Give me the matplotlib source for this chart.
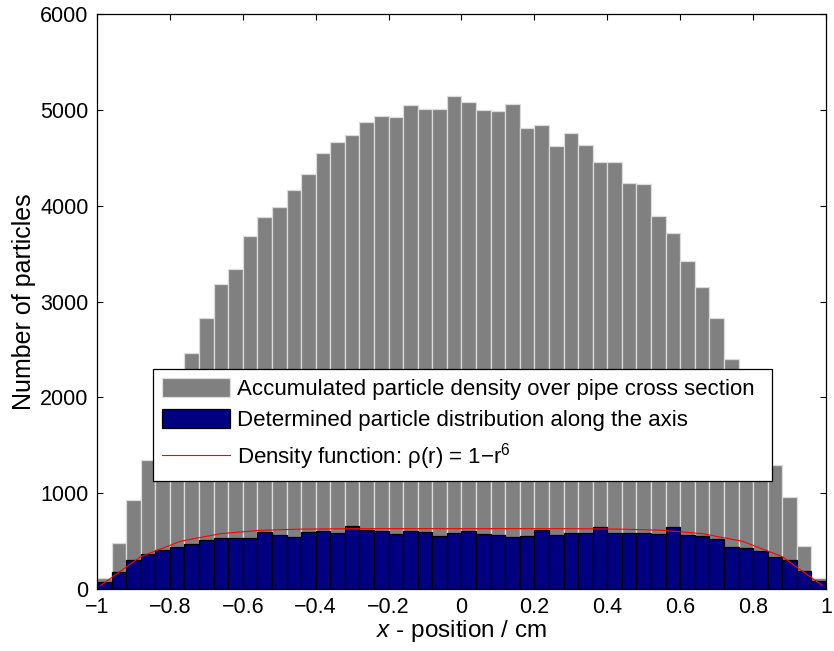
import numpy as np
import matplotlib
matplotlib.use('Agg')
import matplotlib.pyplot as plt

# histogram bins along the pipe axis (cm)
bin_edges = np.round(np.arange(-1.0, 1.0, 0.04), 2)
bin_width = 0.04

# accumulated particle density over the cross section (gray bars)
gray_counts = [114, 480, 928, 1344, 1780, 2150, 2467, 2823, 3184, 3340,
               3680, 3880, 3981, 4161, 4327, 4546, 4667, 4736, 4878, 4937,
               4927, 5048, 5013, 5013, 5148, 5083, 5003, 4993, 5058, 4813,
               4837, 4622, 4757, 4636, 4452, 4452, 4241, 4227, 3891, 3711,
               3420, 3150, 2823, 2401, 2050, 1700, 1299, 963, 450, 114]

# determined particle distribution along the axis (blue bars)
blue_counts = [72, 173, 298, 367, 408, 443, 467, 512, 533, 533,
               533, 599, 568, 540, 599, 609, 585, 658, 613, 609,
               575, 609, 596, 557, 585, 609, 578, 564, 540, 554,
               616, 564, 585, 585, 644, 585, 585, 585, 572, 644,
               564, 551, 520, 442, 429, 396, 338, 307, 187, 86]

# density function curve
r_line = [-0.99, -0.88, -0.77, -0.66, -0.55, -0.44, -0.33, -0.22, -0.11, 0.0,
          0.11, 0.22, 0.33, 0.44, 0.55, 0.66, 0.77, 0.88, 0.99]
rho_line = [37, 338, 499, 578, 613, 625, 629, 630, 630, 630,
            630, 630, 629, 625, 613, 578, 499, 338, 37]

x_ticks = [-1, -0.8, -0.6, -0.4, -0.2, 0, 0.2, 0.4, 0.6, 0.8, 1]
x_labels = ['\u22121', '\u22120.8', '\u22120.6', '\u22120.4', '\u22120.2',
            '0', '0.2', '0.4', '0.6', '0.8', '1']
y_ticks = [0, 1000, 2000, 3000, 4000, 5000, 6000]

plt.rcParams['font.family'] = ['Liberation Sans', 'DejaVu Sans']
plt.rcParams['mathtext.fontset'] = 'custom'
plt.rcParams['mathtext.rm'] = 'Liberation Sans'
plt.rcParams['mathtext.it'] = 'Liberation Sans:italic'

fig = plt.figure(figsize=(8.34, 6.51), dpi=100)
ax = fig.add_axes([0.1163, 0.0952, 0.8741, 0.8833])

h_gray = ax.bar(bin_edges, gray_counts, width=bin_width, align='edge',
                color='#808080', edgecolor='#dcdcdc', linewidth=0.9)
h_blue = ax.bar(bin_edges, blue_counts, width=bin_width, align='edge',
                color='#000080', edgecolor='black', linewidth=0.9)
h_line, = ax.plot(r_line, rho_line, color='red', linewidth=0.8)

ax.set_xlim(-1, 1)
ax.set_ylim(0, 6000)
ax.set_xticks(x_ticks)
ax.set_xticklabels(x_labels)
ax.set_yticks(y_ticks)
ax.tick_params(direction='in', length=4, width=0.8, labelsize=15.5,
               top=True, right=True, pad=6)
for s in ax.spines.values():
    s.set_linewidth(0.9)

ax.set_xlabel('$\\mathit{x}$ - position / cm', fontsize=17.5, labelpad=0)
ax.set_ylabel('Number of particles', fontsize=18, labelpad=3)

leg = ax.legend([h_gray, h_blue, h_line],
                ['Accumulated particle density over pipe cross section',
                 'Determined particle distribution along the axis',
                 'Density function: \u03c1(r) = 1\u2212r$^{6}$'],
                loc='upper left', bbox_to_anchor=(0.0768, 0.383, 0.849, 0.0),
                mode='expand', fontsize=16, frameon=True, fancybox=False,
                edgecolor='black', framealpha=1, borderaxespad=0,
                handlelength=3.05, handleheight=0.95, handletextpad=0.32,
                labelspacing=0.42, borderpad=0.4)
leg.get_frame().set_linewidth(0.9)

fig.savefig('out.png', dpi=100)
